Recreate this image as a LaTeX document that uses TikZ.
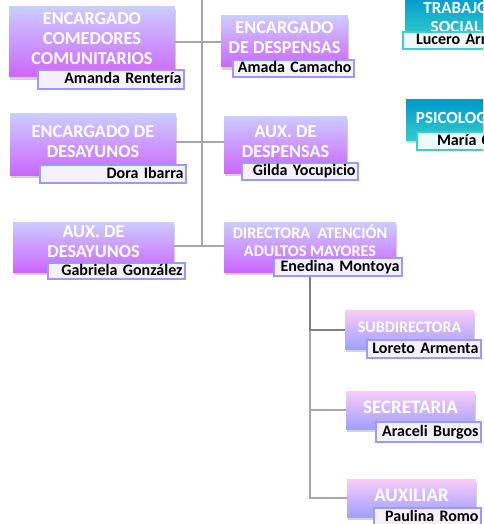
\documentclass[tikz,border=0pt]{standalone}
\usepackage{fontspec}
\setmainfont{Carlito}
\usepackage{tikz}
\usetikzlibrary{shadows}
\definecolor{lavtop}{RGB}{204,204,255}
\definecolor{purbot}{RGB}{204,102,255}
\definecolor{pinktop}{RGB}{248,204,248}
\definecolor{bluebot}{RGB}{160,160,255}
\definecolor{tealtop}{RGB}{0,153,204}
\definecolor{tealbot}{RGB}{51,204,204}
\definecolor{nameline}{RGB}{153,153,255}
\definecolor{namefill}{RGB}{244,241,253}
\definecolor{tealline}{RGB}{64,204,204}
\definecolor{tealfill}{RGB}{238,250,250}
\definecolor{linegray}{RGB}{166,166,166}
\definecolor{linedark}{RGB}{128,128,128}
\tikzstyle{post} = [rectangle, draw=none, top color=lavtop, bottom color=purbot, drop shadow={shadow xshift=0.5pt, shadow yshift=-3pt, opacity=0.35}]
\tikzstyle{subpost} = [post, top color=pinktop, bottom color=bluebot]
\tikzstyle{tealpost} = [post, top color=tealtop, bottom color=tealbot]
\tikzstyle{ttl} = [text=white, align=center, inner sep=0pt, font=\bfseries\fontsize{18.2}{20}\selectfont]
\tikzstyle{namebox} = [rectangle, draw=nameline, line width=1.2pt, fill=namefill, text=black, align=right, inner xsep=2.5pt, inner ysep=0pt, minimum height=17pt, text height=11.5pt, text depth=3.5pt, font=\bfseries\fontsize{16}{18}\selectfont]
\tikzstyle{tealname} = [namebox, draw=tealline, fill=tealfill, align=left]
\tikzstyle{conn} = [draw=linegray, line width=2pt]

\begin{document}
\begin{tikzpicture}[x=1pt, y=-1pt]
    \useasboundingbox (0,0) rectangle (483,524);
    \clip (0,0) rectangle (483,524);

        % Cargos
        \node (t1) [post, minimum width=166pt, minimum height=70pt, label={[ttl, yshift=3pt]center:{ENCARGADO\\COMEDORES\\COMUNITARIOS}}] at (92,42) {};
        \node (t2) [post, minimum width=166pt, minimum height=61pt, label={[ttl, yshift=2.5pt]center:{ENCARGADO DE\\DESAYUNOS}}] at (93,144.5) {};
        \node (t3) [post, minimum width=161pt, minimum height=50pt, label={[ttl, yshift=5pt]center:{AUX. DE\\DESAYUNOS}}] at (93.5,247) {};
        \node (t4) [post, minimum width=127pt, minimum height=51pt, label={[ttl, yshift=4pt]center:{ENCARGADO\\DE DESPENSAS}}] at (284.5,41.5) {};
        \node (t5) [post, minimum width=123pt, minimum height=57pt, label={[ttl, yshift=3pt]center:{AUX. DE\\DESPENSAS}}] at (285.5,144.5) {};
        \node (t6) [post, minimum width=172pt, minimum height=50pt, label={[ttl, yshift=6pt, font=\bfseries\fontsize{16.2}{18}\selectfont]center:{DIRECTORA\ \ ATENCIÓN\\ADULTOS MAYORES}}] at (310,247) {};
        \node (t7) [subpost, minimum width=129pt, minimum height=39pt, label={[ttl, yshift=2.5pt, font=\bfseries\fontsize{16}{18}\selectfont]center:SUBDIRECTORA}] at (409.5,329.5) {};
        \node (t8) [subpost, minimum width=129pt, minimum height=38pt, label={[ttl, yshift=2.5pt, font=\bfseries\fontsize{19}{21}\selectfont]center:SECRETARIA}] at (410.5,410) {};
        \node (t9) [subpost, minimum width=129pt, minimum height=38pt, label={[ttl, yshift=2.5pt, font=\bfseries\fontsize{19}{21}\selectfont]center:AUXILIAR}] at (411.5,498) {};
        \node (t10) [tealpost, minimum width=102pt, minimum height=42pt, label={[ttl, font=\bfseries\fontsize{17}{19}\selectfont]center:{TRABAJO\\SOCIAL}}] at (456,17) {};
        \node (t11) [tealpost, minimum width=106pt, minimum height=40pt, label={[ttl, yshift=4pt, font=\bfseries\fontsize{17}{19}\selectfont]center:PSICOLOGÍA}] at (459,120) {};

        % Nombres
        \node (n1) [namebox, text width=141pt, minimum height=19pt] at (111,79.5) {Amanda Rentería};
        \node (n2) [namebox, text width=141pt, minimum height=18pt] at (113,174) {Dora Ibarra};
        \node (n3) [namebox, text width=132pt, minimum height=16pt] at (116.5,271) {Gabriela González};
        \node (n4) [namebox, text width=116pt] at (293.5,68.5) {Amada Camacho};
        \node (n5) [namebox, text width=111pt] at (300,171.5) {Gilda Yocupicio};
        \node (n6) [namebox, text width=123pt, minimum height=18pt] at (338,267) {Enedina Montoya};
        \node (n7) [namebox, text width=109pt, minimum height=18pt] at (424,349) {Loreto Armenta};
        \node (n8) [namebox, text width=100pt, minimum height=20pt] at (428.5,432) {Araceli Burgos};
        \node (n9) [namebox, text width=102pt, minimum height=18pt] at (427.5,517) {Paulina Romo};
        \node (n10) [tealname, text width=94pt, inner xsep=13pt] at (463,40.5) {Lucero Arm};
        \node (n11) [tealname, text width=80pt, inner xsep=20pt, minimum height=18pt] at (477,141) {María C};

        % Lineas
        \coordinate (top) at (202,-10);
        \coordinate (j1) at (202,42);
        \coordinate (j2) at (202,142);
        \coordinate (j3) at (202,246);
        \draw [conn] (top) -- (j3);
        \draw [conn] (t1.east |- j1) -- (t4.west |- j1);
        \draw [conn] (t2.east |- j2) -- (t5.west |- j2);
        \draw [conn] (t3.east |- j3) -- (t6.west |- j3);
        \draw [conn] (t6.south |- t7.west) -- (t6.south |- t9.west) -- (t9.west);
        \draw [conn] (t6.south |- t8.west) -- (t8.west);
        \draw [conn, draw=linedark] (n6.south -| t6.south) -- (t6.south |- t7.west) -- (t7.west);
    \end{tikzpicture}
\end{document}
